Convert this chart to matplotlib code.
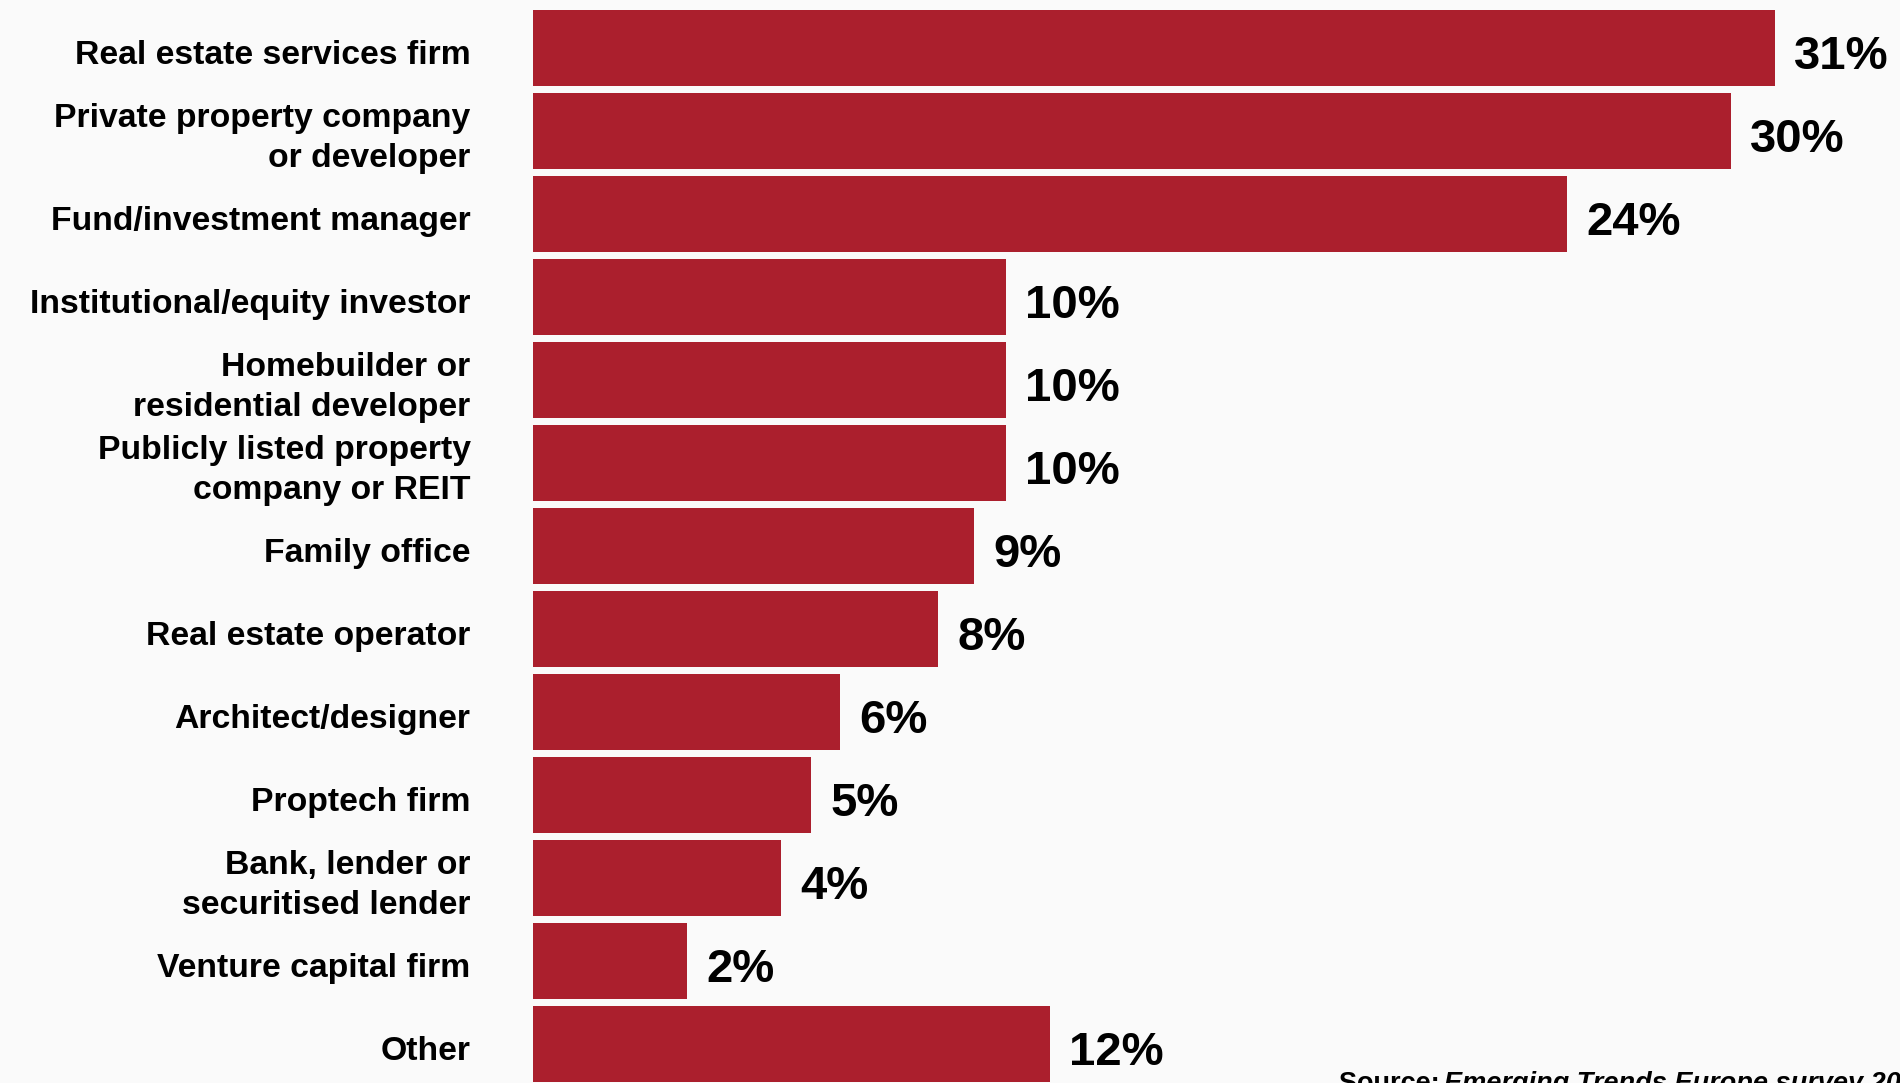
import matplotlib
matplotlib.use("Agg")
import matplotlib.pyplot as plt

# Categorias (de cima para baixo)
categorias = [
    "Real estate services firm",
    "Private property company\nor developer",
    "Fund/investment manager",
    "Institutional/equity investor",
    "Homebuilder or\nresidential developer",
    "Publicly listed property\ncompany or REIT",
    "Family office",
    "Real estate operator",
    "Architect/designer",
    "Proptech firm",
    "Bank, lender or\nsecuritised lender",
    "Venture capital firm",
    "Other",
]

# Rótulos mostrados no gráfico
rotulos = ["31%", "30%", "24%", "10%", "10%", "10%", "9%", "8%", "6%", "5%", "4%", "2%", "12%"]

# Comprimento das barras estimado a partir da imagem (em %)
comprimentos = [31.0, 29.9, 25.8, 11.8, 11.8, 11.8, 11.0, 10.1, 7.66, 6.94, 6.19, 3.84, 12.9]

fonte = "Liberation Sans"
cor_barra = "#AB1F2D"
cor_fundo = "#FAFAFA"

plt.rcParams["font.family"] = [fonte, "DejaVu Sans"]

fig = plt.figure(figsize=(19, 10.83), dpi=100, facecolor=cor_fundo)
ax = fig.add_axes([533 / 1900, 0, 1 - 533 / 1900, 1])
ax.set_facecolor(cor_fundo)

posicoes = list(range(len(categorias)))
ax.barh(posicoes, comprimentos, height=0.912, color=cor_barra)

# Valores à direita das barras
for pos, comp, txt in zip(posicoes, comprimentos, rotulos):
    ax.annotate(txt, xy=(comp, pos), xytext=(14, -6.5), textcoords="offset points",
                ha="left", va="center", fontsize=34, fontweight="bold", color="black")

# Categorias à esquerda (como texto, para poder ajustar a posição vertical)
for pos, cat in zip(posicoes, categorias):
    ax.annotate(cat, xy=(0, pos), xycoords=("axes fraction", "data"),
                xytext=(-45, -5.5), textcoords="offset points",
                ha="right", va="center", multialignment="right",
                fontsize=24.3, fontweight="bold", linespacing=1.38, color="black")

ax.set_xlim(0, 1367 / 40.06)
ax.set_ylim(12.472, -0.576)
ax.set_xticks([])
ax.set_yticks([])
for lado in ax.spines.values():
    lado.set_visible(False)

# Fonte (cortada na borda, como no original)
y_fonte = 1 - 1071 / 1083
fig.text(1339 / 1900, y_fonte, "Source: ", fontsize=19.5, fontweight="bold",
         ha="left", va="top")
fig.text(1339 / 1900 + 0.0555, y_fonte, "Emerging Trends Europe survey 2024",
         fontsize=19.5, fontweight="bold", style="italic", ha="left", va="top")

fig.savefig("out.png", dpi=100, facecolor=cor_fundo)
plt.close(fig)
